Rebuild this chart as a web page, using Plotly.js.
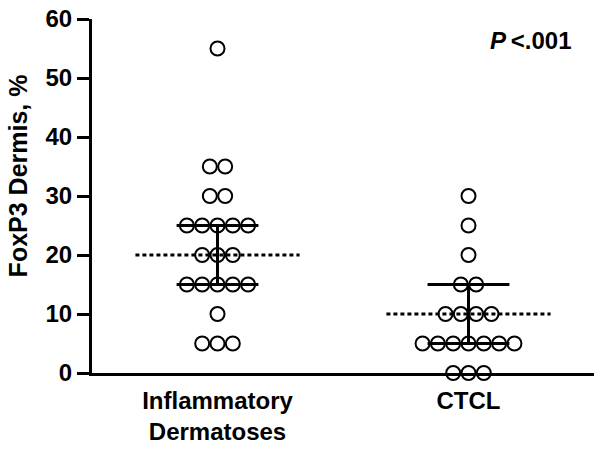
<!DOCTYPE html>
<html>
<head>
<meta charset="utf-8">
<script src="https://cdn.plot.ly/plotly-3.0.1.min.js"></script>
<style>html,body{margin:0;padding:0;background:#fff;}#chart{width:600px;height:449px;}</style>
</head>
<body>
<div id="chart"></div>
<script>
// ---- data ----
var categories = ["Inflammatory<br>Dermatoses", "CTCL"];
var inflammatoryValues = [55, 35, 35, 30, 30, 25, 25, 25, 25, 25, 20, 20, 20, 15, 15, 15, 15, 15, 10, 5, 5, 5];
var ctclValues = [30, 25, 20, 15, 15, 10, 10, 10, 10, 5, 5, 5, 5, 5, 5, 5, 0, 0, 0];
var medians = [20, 10];
var q1 = [15, 5];
var q3 = [25, 15];
var yTicks = [0, 10, 20, 30, 40, 50, 60];
var pLabel = "<b><i>P</i>&#8201;&lt;.001</b>";
var yTitle = "<b>FoxP3 Dermis, %</b>";

// ---- layout helpers (beeswarm offsets) ----
var step = 0.061;
function swarm(values, center) {
  var counts = {}, seen = {};
  values.forEach(function (v) { counts[v] = (counts[v] || 0) + 1; });
  return values.map(function (v) {
    var i = seen[v] || 0; seen[v] = i + 1;
    return center + (i - (counts[v] - 1) / 2) * step;
  });
}
var groups = [inflammatoryValues, ctclValues];
var traces = [];
var medHalf = 0.327, capHalf = 0.163;
groups.forEach(function (vals, g) {
  traces.push({x: [g - medHalf, g + medHalf], y: [medians[g], medians[g]], mode: 'lines',
    line: {color: '#000', width: 3, dash: '4px,3px'}, hoverinfo: 'skip', cliponaxis: false});
  traces.push({x: [g - capHalf, g + capHalf, null, g - capHalf, g + capHalf, null, g, g],
    y: [q3[g], q3[g], null, q1[g], q1[g], null, q1[g], q3[g]], mode: 'lines',
    line: {color: '#000', width: 3}, hoverinfo: 'skip', cliponaxis: false});
  traces.push({x: swarm(vals, g), y: vals, mode: 'markers', cliponaxis: false,
    marker: {symbol: 'circle-open', size: 14, color: '#000', line: {width: 2, color: '#000'}}});
});

var font = {family: 'Liberation Sans, Arial, sans-serif', color: '#000'};
var layout = {
  width: 600, height: 449,
  margin: {l: 92, r: 6, t: 19, b: 76},
  paper_bgcolor: '#fff', plot_bgcolor: '#fff',
  showlegend: false,
  font: font,
  xaxis: {
    range: [-0.5, 1.5], tickvals: [0, 1], ticktext: categories.map(function (c) { return '<b>' + c + '</b>'; }),
    showline: true, linewidth: 3, linecolor: '#000', showgrid: false, zeroline: false,
    ticks: '', ticklabelstandoff: 4,
    tickfont: {family: font.family, size: 24, color: '#000'}
  },
  yaxis: {
    range: [0, 60], tickvals: yTicks, ticktext: yTicks.map(function (t) { return '<b>' + t + '</b>'; }),
    showline: true, linewidth: 3, linecolor: '#000', showgrid: false, zeroline: false,
    ticks: 'outside', ticklen: 12, tickwidth: 3, tickcolor: '#000',
    tickfont: {family: font.family, size: 24, color: '#000'}
  },
  annotations: [
    {text: yTitle, textangle: -90, xref: 'paper', yref: 'paper', x: -0.147, y: 0.556,
     xanchor: 'center', yanchor: 'middle', showarrow: false,
     font: {family: font.family, size: 25, color: '#000'}},
    {text: pLabel, xref: 'paper', yref: 'paper', x: 0.875, y: 0.938,
     xanchor: 'center', yanchor: 'middle', showarrow: false,
     font: {family: font.family, size: 24, color: '#000'}}
  ]
};
Plotly.newPlot('chart', traces, layout, {staticPlot: true, displayModeBar: false});
</script>
</body>
</html>
